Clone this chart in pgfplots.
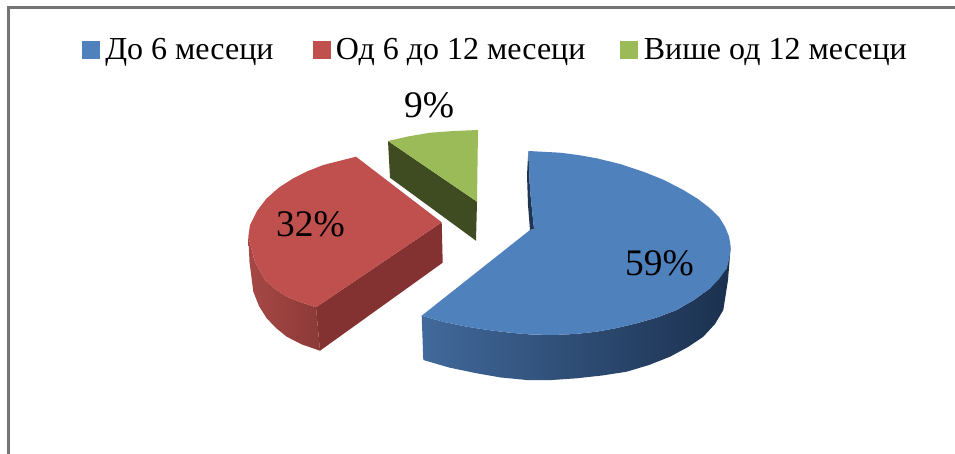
\documentclass[border=0pt]{standalone}
\usepackage{fontspec}
\setmainfont{Liberation Serif}
\usepackage{pgfplots}
\pgfplotsset{compat=1.18}
\definecolor{blueTop}{HTML}{4F81BD}
\definecolor{redTop}{HTML}{C0504D}
\definecolor{greenTop}{HTML}{9BBB59}
\definecolor{greenSide}{HTML}{3F4B21}
\definecolor{redCut}{HTML}{843231}
\definecolor{redRimL}{HTML}{A64845}
\definecolor{redRimR}{HTML}{8C3A38}
\definecolor{blueRimL}{HTML}{41699B}
\definecolor{blueRimR}{HTML}{1B304E}
\definecolor{blueCut}{HTML}{1F3552}
\definecolor{frameGrey}{HTML}{757575}
\begin{document}
\begin{tikzpicture}
\begin{axis}[
  scale only axis, width=955pt, height=454pt,
  xmin=0, xmax=955, ymin=0, ymax=454, y dir=reverse,
  hide axis, clip=true,
  legend style={
    at={(axis cs:82,49.5)}, anchor=west, draw=none, fill=none,
    inner sep=0pt, outer sep=0pt,
    legend columns=3,
    font=\fontsize{32}{36}\selectfont,
    legend cell align=left,
  },
  legend image code/.code={\fill[#1] (0pt,-8.5pt) rectangle (17pt,8.5pt); \path (21pt,0pt);},
]
% white chart area, which also fixes the extent of the page
\addplot[fill=white, draw=none, forget plot] coordinates {(0,0) (955,0) (955,454) (0,454)} --cycle;

% chart frame: left and top rules only, drawn as filled strips
\addplot[fill=frameGrey, draw=none, forget plot] coordinates {(6.5,6.5) (955,6.5) (955,9.5) (6.5,9.5)} --cycle;
\addplot[fill=frameGrey, draw=none, forget plot] coordinates {(6.5,6.5) (9.5,6.5) (9.5,454) (6.5,454)} --cycle;

% legend keys
\addlegendimage{blueTop}
\addlegendimage{redTop}
\addlegendimage{greenTop}
\addlegendentry{До 6 месеци\hspace*{37pt}}
\addlegendentry{Од 6 до 12 месеци\hspace*{33pt}}
\addlegendentry{Више од 12 месеци}

% slice: Више од 12 месеци (9%)
\addplot[fill=greenSide, draw=none, forget plot] coordinates {(388,141) (390,177.7) (476,240.7) (477,201.7)} --cycle;
\addplot[fill=greenTop, draw=none, forget plot] coordinates {(388,141) (408,136.5) (430,132.7) (454,131) (478,130) (477,201.7)} --cycle;

% slice: Од 6 до 12 месеци (32%)
\addplot[draw=none, left color=redRimL, right color=redRimR, forget plot] coordinates {
  (248.3,236.7) (249.5,262) (253.3,291.7) (259,306) (266.7,318.3) (276,328) (286.7,336.7) (302,344.5) (320,350.7) (316,307.3) (300,302) (286.7,296.7) (275,289) (265,280) (255,262)} --cycle;
\addplot[fill=redCut, draw=none, forget plot] coordinates {(441.7,222.3) (442.7,262.7) (320,350.7) (316,307.3)} --cycle;
\addplot[fill=redTop, draw=none, forget plot] coordinates {
  (356,156.7) (441.7,222.3) (316,307.3) (300,302) (286.7,296.7) (275,289) (265,280) (255,262) (248.3,236.7) (250,225) (257,211) (266.7,198.3) (279,187.5) (293.3,178.3) (308,171) (323.3,165)} --cycle;

% slice: До 6 месеци (59%)
\addplot[fill=blueCut, draw=none, forget plot] coordinates {(528.3,151) (527,175) (528,205) (530,230) (534,229) (530,190)} --cycle;
\addplot[draw=none, left color=blueRimL, right color=blueRimR, forget plot] coordinates {
  (421.7,315.7) (423.3,360) (449,367.5) (476.7,373.3) (501,377.5) (526.7,380) (552,380) (576.7,378.3) (602,375.5) (626.7,371.7) (649,365) (670,356.7) (688,347) (703.3,336.7) (715,324) (723.3,310) (728,280) (730.7,246.7)
  (726.7,268.3) (710,288.3) (694,300) (676.7,310) (657,317.5) (636.7,323.3) (617,328) (596.7,331.7) (575,334) (553.3,335) (531,334.5) (510,332.7) (488,330) (466.7,326.7) (444,322)} --cycle;
\addplot[fill=blueTop, draw=none, forget plot] coordinates {
  (528.3,151) (560,152.7) (578,155) (596.7,158.3) (620,164) (643.3,171.7) (664,180) (683.3,190) (698,199) (710,208.3) (719,217) (725,226.7) (729,236.5) (730.7,246.7) (729.5,258) (726.7,268.3) (719,279) (710,288.3) (694,300) (676.7,310) (657,317.5) (636.7,323.3) (617,328) (596.7,331.7) (575,334) (553.3,335) (531,334.5) (510,332.7) (488,330) (466.7,326.7) (444,322) (421.7,315.7) (530,230) (534,229) (530,190)} --cycle;

% data labels
\node[anchor=base west, inner sep=0pt, font=\fontsize{37.5}{41}\selectfont] at (axis cs:625,276) {59\%};
\node[anchor=base west, inner sep=0pt, font=\fontsize{37.5}{41}\selectfont] at (axis cs:276,236.7) {32\%};
\node[anchor=base west, inner sep=0pt, font=\fontsize{37.5}{41}\selectfont] at (axis cs:404,118) {9\%};
\end{axis}
\end{tikzpicture}
\end{document}
